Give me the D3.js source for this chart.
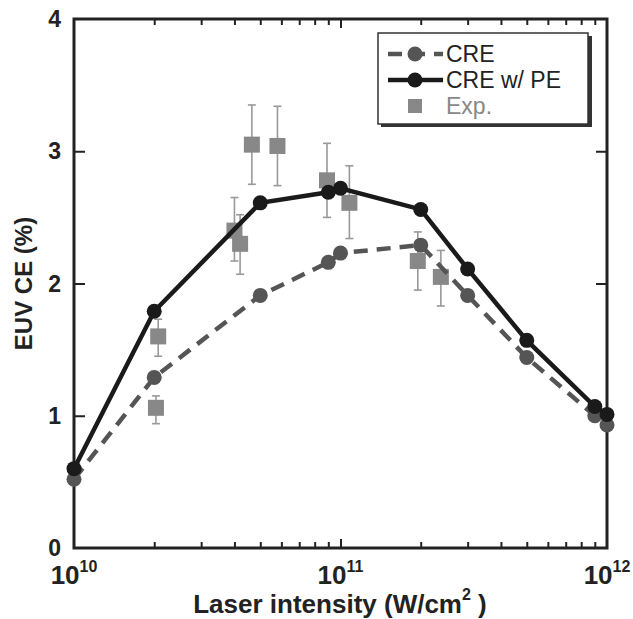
<!DOCTYPE html>
<html><head><meta charset="utf-8">
<script src="https://cdn.jsdelivr.net/npm/d3@7"></script>
<style>body{margin:0;background:#fff}svg{display:block}text{font-family:"Liberation Sans",Arial,Helvetica,sans-serif}</style>
</head><body><svg id="c" width="633" height="619"></svg>
<script>
// ---- data ----
const creX = [1e10, 2e10, 5e10, 9e10, 1e11, 2e11, 3e11, 5e11, 9e11, 1e12];
const creY = [0.52, 1.29, 1.91, 2.16, 2.23, 2.29, 1.91, 1.44, 1.00, 0.93];
const peX  = [1e10, 2e10, 5e10, 9e10, 1e11, 2e11, 3e11, 5e11, 9e11, 1e12];
const peY  = [0.60, 1.79, 2.61, 2.69, 2.72, 2.56, 2.11, 1.57, 1.07, 1.01];
const expX  = [2.07e10, 2.03e10, 4.0e10, 4.2e10, 4.65e10, 5.8e10, 8.9e10, 1.08e11, 1.95e11, 2.38e11];
const expY  = [1.60, 1.06, 2.40, 2.30, 3.05, 3.04, 2.78, 2.61, 2.17, 2.05];
const expLo = [1.45, 0.94, 2.17, 2.07, 2.75, 2.74, 2.50, 2.34, 1.95, 1.83];
const expHi = [1.73, 1.15, 2.65, 2.52, 3.35, 3.34, 3.06, 2.89, 2.39, 2.25];
const yTicks = [0, 1, 2, 3, 4];
const xMajor = [1e10, 1e11, 1e12];
const xExpLabels = ["10", "11", "12"];
const legendLabels = ["CRE", "CRE w/ PE", "Exp."];

// ---- layout ----
const L = 74, R = 607, T = 19, B = 548;
const svg = d3.select("#c");
const x = d3.scaleLog().domain([1e10, 1e12]).range([L, R]);
const y = d3.scaleLinear().domain([0, 4]).range([B, T]);

const minor = [];
[1e10, 1e11].forEach(d => { for (let k = 2; k <= 9; k++) minor.push(d * k); });

// ticks (inward, all four sides)
function xAxis(g, orient) {
  const ax = (orient === "b" ? d3.axisBottom(x) : d3.axisTop(x));
  g.call(ax.tickValues(minor).tickSize(-6).tickFormat(""));
  g.call(gg => gg.select(".domain").remove());
  g.selectAll("line").attr("stroke", "#222").attr("stroke-width", 2);
}
svg.append("g").attr("transform", `translate(0,${B})`).call(g => xAxis(g, "b"));
svg.append("g").attr("transform", `translate(0,${T})`).call(g => xAxis(g, "t"));
svg.append("g").attr("transform", `translate(0,${B})`)
  .call(d3.axisBottom(x).tickValues([1e11]).tickSize(-9).tickFormat(""))
  .call(g => g.select(".domain").remove())
  .selectAll("line").attr("stroke", "#222").attr("stroke-width", 2);
svg.append("g").attr("transform", `translate(0,${T})`)
  .call(d3.axisTop(x).tickValues([1e11]).tickSize(-9).tickFormat(""))
  .call(g => g.select(".domain").remove())
  .selectAll("line").attr("stroke", "#222").attr("stroke-width", 2);

svg.append("g").attr("transform", `translate(${L},0)`)
  .call(d3.axisLeft(y).tickValues([1, 2, 3]).tickSize(-11).tickFormat(""))
  .call(g => g.select(".domain").remove())
  .selectAll("line").attr("stroke", "#222").attr("stroke-width", 2);
svg.append("g").attr("transform", `translate(${R},0)`)
  .call(d3.axisRight(y).tickValues([1, 2, 3]).tickSize(-11).tickFormat(""))
  .call(g => g.select(".domain").remove())
  .selectAll("line").attr("stroke", "#222").attr("stroke-width", 2);

// y tick labels
svg.append("g").selectAll("text").data(yTicks).join("text")
  .attr("x", L - 13).attr("y", d => y(d) + 8)
  .attr("text-anchor", "end").attr("font-size", 23).attr("font-weight", "bold")
  .attr("fill", "#222").text(d => d);

// x tick labels with superscripts
const xl = svg.append("g").selectAll("text").data(xMajor).join("text")
  .attr("x", d => x(d)).attr("y", B + 36)
  .attr("text-anchor", "middle").attr("font-weight", "bold").attr("fill", "#222");
xl.append("tspan").attr("font-size", 26).text("10");
xl.append("tspan").attr("font-size", 16).attr("dy", -12).text((d, i) => xExpLabels[i]);

// axis titles
svg.append("text").attr("transform", `translate(32,${(T + B) / 2}) rotate(-90)`)
  .attr("text-anchor", "middle").attr("font-size", 24).attr("font-weight", "bold")
  .attr("fill", "#222").text("EUV CE (%)");
const xt = svg.append("text").attr("x", 340).attr("y", 613)
  .attr("text-anchor", "middle").attr("font-size", 26).attr("font-weight", "bold").attr("fill", "#222");
xt.append("tspan").text("Laser intensity (W/cm");
xt.append("tspan").attr("font-size", 16).attr("dy", -13).text("2");
xt.append("tspan").attr("dy", 13).text(" )");

// frame
svg.append("rect").attr("x", L).attr("y", T).attr("width", R - L).attr("height", B - T)
  .attr("fill", "none").attr("stroke", "#222").attr("stroke-width", 3);

// experimental points
const exp = expX.map((d, i) => ({ x: d, y: expY[i], lo: expLo[i], hi: expHi[i] }));
const eg = svg.append("g");
eg.selectAll("line.v").data(exp).join("line").attr("class", "v")
  .attr("x1", d => x(d.x)).attr("x2", d => x(d.x)).attr("y1", d => y(d.lo)).attr("y2", d => y(d.hi))
  .attr("stroke", "#999").attr("stroke-width", 1.6);
["lo", "hi"].forEach(k => {
  eg.selectAll("line." + k).data(exp).join("line").attr("class", k)
    .attr("x1", d => x(d.x) - 4).attr("x2", d => x(d.x) + 4).attr("y1", d => y(d[k])).attr("y2", d => y(d[k]))
    .attr("stroke", "#999").attr("stroke-width", 1.6);
});
eg.selectAll("rect").data(exp).join("rect")
  .attr("x", d => x(d.x) - 8).attr("y", d => y(d.y) - 8).attr("width", 16).attr("height", 16)
  .attr("fill", "#888");

// CRE dashed
const line = d3.line().x(d => x(d[0])).y(d => y(d[1]));
const cre = creX.map((d, i) => [d, creY[i]]);
svg.append("path").datum(cre).attr("d", line).attr("fill", "none")
  .attr("stroke", "#555").attr("stroke-width", 4.5).attr("stroke-dasharray", "14,9");
svg.append("g").selectAll("circle").data(cre).join("circle")
  .attr("cx", d => x(d[0])).attr("cy", d => y(d[1])).attr("r", 7.5).attr("fill", "#555");

// CRE w/ PE
const pe = peX.map((d, i) => [d, peY[i]]);
svg.append("path").datum(pe).attr("d", line).attr("fill", "none")
  .attr("stroke", "#1a1a1a").attr("stroke-width", 4.5);
svg.append("g").selectAll("circle").data(pe).join("circle")
  .attr("cx", d => x(d[0])).attr("cy", d => y(d[1])).attr("r", 7.5).attr("fill", "#1a1a1a");

// legend
const lg = svg.append("g");
lg.append("rect").attr("x", 381).attr("y", 36).attr("width", 211).attr("height", 91).attr("fill", "#333");
lg.append("rect").attr("x", 378).attr("y", 33).attr("width", 210).attr("height", 91)
  .attr("fill", "#fff").attr("stroke", "#333").attr("stroke-width", 1.5);
const rows = [54, 80, 106];
lg.append("line").attr("x1", 388).attr("x2", 443).attr("y1", rows[0]).attr("y2", rows[0])
  .attr("stroke", "#555").attr("stroke-width", 4.5).attr("stroke-dasharray", "14,9");
lg.append("circle").attr("cx", 415).attr("cy", rows[0]).attr("r", 7.5).attr("fill", "#555");
lg.append("line").attr("x1", 388).attr("x2", 443).attr("y1", rows[1]).attr("y2", rows[1])
  .attr("stroke", "#1a1a1a").attr("stroke-width", 4.5);
lg.append("circle").attr("cx", 415).attr("cy", rows[1]).attr("r", 7.5).attr("fill", "#1a1a1a");
lg.append("rect").attr("x", 408).attr("y", rows[2] - 7).attr("width", 14).attr("height", 14).attr("fill", "#888");
lg.selectAll("text").data(legendLabels).join("text")
  .attr("x", 446).attr("y", (d, i) => rows[i] + 8).attr("font-size", 23)
  .attr("fill", (d, i) => i === 2 ? "#888" : "#222").text(d => d);
</script></body></html>
